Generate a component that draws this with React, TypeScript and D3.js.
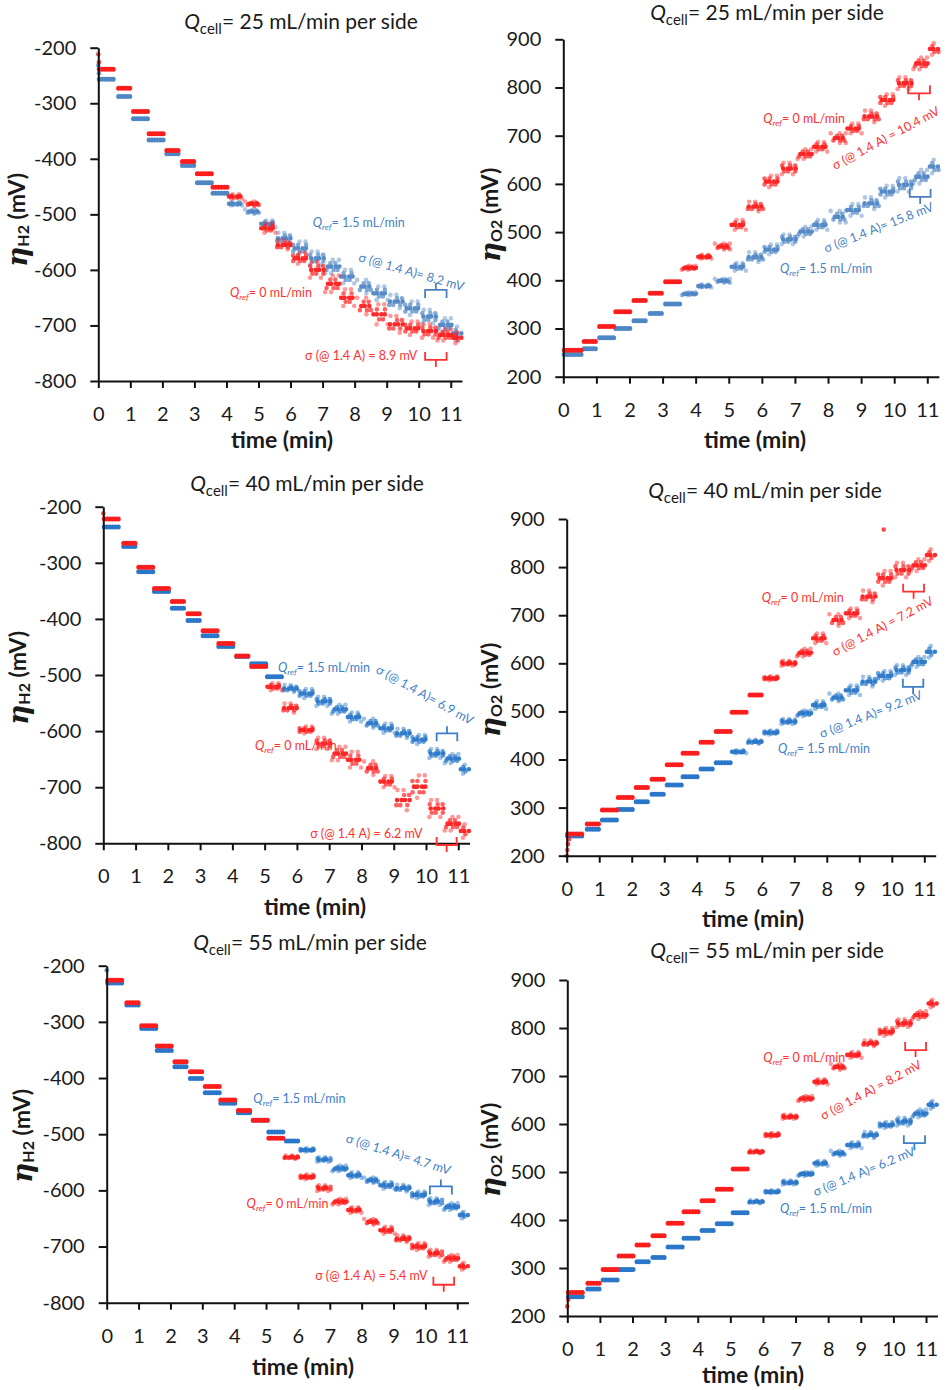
import { useEffect, useRef } from "react";
import * as d3 from "d3";

// time edges of the current steps (min)
const STEP_EDGES = [0, 0.55, 1.05, 1.55, 2.05, 2.55, 3.05, 3.55, 4.05, 4.55, 5.05, 5.55, 6.05, 6.55, 7.05, 7.55, 8.05, 8.55, 9.05, 9.55, 10.05, 10.55, 11.05, 11.35];
const TIME_TICKS = [0, 1, 2, 3, 4, 5, 6, 7, 8, 9, 10, 11];
const H2_TICKS = [-200, -300, -400, -500, -600, -700, -800];
const O2_TICKS = [200, 300, 400, 500, 600, 700, 800, 900];

// plateau levels (mV) and scatter half-width (mV), Qref = 0 (red) and Qref = 1.5 (blue)
const h2_25_zero = [-239, -273, -315, -355, -385, -405, -427, -451, -468, -481, -525, -555, -579, -600, -625, -650, -665, -680, -698, -705, -710, -717, -722];
const h2_25_zeroSd = [0, 0, 0, 0, 0, 0, 0, 0, 4, 4, 8, 8, 10, 14, 15, 15, 15, 18, 15, 12, 12, 10, 10];
const h2_25_ref = [-257, -288, -328, -366, -391, -412, -443, -462, -481, -495, -517, -543, -561, -579, -594, -612, -630, -642, -657, -669, -684, -699, -714];
const h2_25_refSd = [0, 0, 0, 0, 0, 0, 0, 0, 3, 4, 6, 10, 12, 12, 12, 12, 12, 12, 12, 12, 12, 12, 12];

const o2_25_zero = [255, 273, 304, 335, 358, 373, 397, 426, 449, 470, 515, 553, 605, 632, 662, 677, 695, 715, 740, 774, 809, 850, 880];
const o2_25_zeroSd = [0, 0, 0, 0, 0, 0, 0, 4, 4, 6, 10, 10, 12, 12, 10, 10, 10, 10, 12, 12, 12, 12, 12];
const o2_25_ref = [246, 258, 281, 300, 316, 331, 351, 372, 388, 399, 428, 448, 464, 485, 501, 515, 532, 546, 560, 584, 598, 615, 636];
const o2_25_refSd = [0, 0, 0, 0, 0, 0, 0, 3, 3, 4, 8, 10, 10, 10, 10, 10, 12, 12, 12, 12, 14, 14, 14];

const h2_40_zero = [-222, -265, -308, -346, -369, -391, -421, -444, -466, -485, -521, -559, -598, -622, -640, -651, -666, -690, -723, -699, -738, -765, -778];
const h2_40_zeroSd = [0, 0, 0, 0, 0, 0, 0, 0, 0, 0, 6, 8, 6, 10, 12, 14, 12, 10, 18, 20, 15, 12, 12];
const h2_40_ref = [-236, -271, -316, -351, -381, -403, -430, -449, -467, -480, -503, -524, -533, -547, -561, -575, -586, -595, -604, -615, -640, -649, -668];
const h2_40_refSd = [0, 0, 0, 0, 0, 0, 0, 0, 0, 0, 0, 6, 8, 8, 8, 8, 8, 8, 8, 8, 8, 8, 8];

const o2_40_zero = [245, 266, 295, 321, 342, 359, 389, 413, 436, 458, 498, 534, 569, 600, 622, 652, 690, 704, 739, 777, 794, 804, 825];
const o2_40_zeroSd = [0, 0, 0, 0, 0, 0, 0, 0, 0, 0, 0, 0, 4, 5, 8, 10, 12, 10, 12, 15, 15, 12, 12];
const o2_40_ref = [241, 255, 274, 296, 312, 328, 347, 364, 380, 393, 416, 437, 456, 479, 496, 513, 529, 544, 562, 574, 586, 603, 624];
const o2_40_refSd = [0, 0, 0, 0, 0, 0, 0, 0, 0, 0, 3, 4, 4, 5, 6, 8, 8, 10, 10, 10, 10, 10, 12];

const h2_55_zero = [-226, -266, -307, -343, -371, -389, -415, -439, -458, -475, -507, -541, -576, -596, -620, -635, -656, -671, -686, -700, -712, -721, -735];
const h2_55_zeroSd = [0, 0, 0, 0, 0, 0, 0, 0, 0, 0, 0, 3, 4, 5, 5, 5, 5, 6, 6, 6, 6, 6, 6];
const h2_55_ref = [-231, -270, -312, -351, -380, -401, -426, -445, -462, -475, -496, -512, -528, -545, -561, -573, -582, -591, -596, -608, -620, -629, -644];
const h2_55_refSd = [0, 0, 0, 0, 0, 0, 0, 0, 0, 0, 0, 0, 3, 4, 5, 5, 5, 6, 6, 6, 6, 6, 6];

const o2_55_zero = [249, 268, 297, 325, 348, 367, 393, 417, 440, 464, 506, 542, 577, 615, 653, 688, 719, 744, 768, 792, 810, 827, 851];
const o2_55_zeroSd = [0, 0, 0, 0, 0, 0, 0, 0, 0, 0, 0, 3, 4, 4, 5, 5, 6, 6, 6, 8, 8, 8, 8];
const o2_55_ref = [240, 256, 275, 297, 313, 322, 344, 362, 378, 392, 415, 438, 459, 478, 496, 518, 539, 556, 577, 598, 605, 622, 640];
const o2_55_refSd = [0, 0, 0, 0, 0, 0, 0, 0, 0, 0, 0, 3, 3, 4, 4, 5, 5, 6, 6, 6, 8, 8, 8];

// single points off the plateaus: [time, mV]
const h2_25_zeroExtra = [[0, -212], [0.02, -226]];
const h2_25_refExtra = [[0, -232], [0.02, -246]];
const o2_40_zeroExtra = [[0, 200], [0.02, 212], [0.04, 224], [0.07, 234], [9.75, 878]];
const h2_40_zeroExtra = [[0, -212]];
const h2_55_refExtra = [[0, -208]];
const o2_55_zeroExtra = [[0, 220], [0.03, 234]];

const RED = "#ff1c1c";
const RED_TXT = "#ff3030";

const PANELS = [
  {
    gas: "H2", q: 25, x0: 98.3, ppm: 32.04, yTop: 47.7, yBot: 381, title: [301, 29], xLab: [282, 448], yLab: [19, 220],
    blue: "#4f86c4", blueTxt: "#4a7fbf",
    zero: [h2_25_zero, h2_25_zeroSd, h2_25_zeroExtra], ref: [h2_25_ref, h2_25_refSd, h2_25_refExtra],
    notes: {
      refQ: [6.69, -522, 0], refS: [8.1, -584, 16, "= 8.2 mV"], refB: [10.2, 10.87, -636, -1],
      zeroQ: [4.11, -648, 0], zeroS: [6.45, -762, 0, " = 8.9 mV"], zeroB: [10.2, 10.87, -762, 1],
    },
  },
  {
    gas: "O2", q: 25, x0: 563.3, ppm: 33.09, yTop: 39.3, yBot: 376.7, title: [767, 20], xLab: [755, 448], yLab: [492, 215],
    blue: "#4f86c4", blueTxt: "#4a7fbf",
    zero: [o2_25_zero, o2_25_zeroSd, []], ref: [o2_25_ref, o2_25_refSd, []],
    notes: {
      refQ: [6.55, 415, 0], refS: [7.94, 457, -21.5, "= 15.8 mV"], refB: [10.47, 11.1, 573, 1],
      zeroQ: [6.04, 726, 0], zeroS: [8.21, 629, -28, " = 10.4 mV"], zeroB: [10.42, 11.08, 788, 1],
    },
  },
  {
    gas: "H2", q: 40, x0: 103.3, ppm: 32.27, yTop: 506.7, yBot: 843.3, title: [307, 491], xLab: [315, 915], yLab: [20, 678],
    blue: "#2a77c9", blueTxt: "#3d7fc8",
    zero: [h2_40_zero, h2_40_zeroSd, h2_40_zeroExtra], ref: [h2_40_ref, h2_40_refSd, []],
    notes: {
      refQ: [5.41, -494, 0], refS: [8.42, -495, 29, "= 6.9 mV"], refB: [10.33, 10.97, -604, -1],
      zeroQ: [4.7, -634, 0], zeroS: [6.41, -791, 0, " = 6.2 mV"], zeroB: [10.33, 10.95, -803, 1],
    },
  },
  {
    gas: "O2", q: 40, x0: 566.7, ppm: 32.51, yTop: 519, yBot: 855.7, title: [765, 498], xLab: [753, 927], yLab: [492, 690],
    blue: "#2a77c9", blueTxt: "#3d7fc8",
    zero: [o2_40_zero, o2_40_zeroSd, o2_40_zeroExtra], ref: [o2_40_ref, o2_40_refSd, []],
    notes: {
      refQ: [6.5, 413, 0], refS: [7.84, 444, -21.5, "= 9.2 mV"], refB: [10.34, 10.97, 551, 1],
      zeroQ: [6.0, 728, 0], zeroS: [8.25, 614, -28, " = 7.2 mV"], zeroB: [10.35, 10.99, 749, 1],
    },
  },
  {
    gas: "H2", q: 55, x0: 106.7, ppm: 31.87, yTop: 965.7, yBot: 1302.7, title: [310, 950], xLab: [303, 1375], yLab: [24, 1136],
    blue: "#2a77c9", blueTxt: "#3d7fc8",
    zero: [h2_55_zero, h2_55_zeroSd, []], ref: [h2_55_ref, h2_55_refSd, h2_55_refExtra],
    notes: {
      refQ: [4.6, -445, 0], refS: [7.48, -514, 17.5, "= 4.7 mV"], refB: [10.14, 10.83, -593, -1],
      zeroQ: [4.39, -632, 0], zeroS: [6.54, -760, 0, " = 5.4 mV"], zeroB: [10.25, 10.9, -768, 1],
    },
  },
  {
    gas: "O2", q: 55, x0: 567.3, ppm: 32.61, yTop: 980, yBot: 1316, title: [767, 958], xLab: [753, 1383], yLab: [492, 1150],
    blue: "#2a77c9", blueTxt: "#3d7fc8",
    zero: [o2_55_zero, o2_55_zeroSd, o2_55_zeroExtra], ref: [o2_55_ref, o2_55_refSd, []],
    notes: {
      refQ: [6.52, 414, 0], refS: [7.6, 449, -22.5, "=  6.2 mV"], refB: [10.32, 10.97, 560, 1],
      zeroQ: [6.01, 730, 0], zeroS: [7.85, 608, -28, " = 8.2 mV"], zeroB: [10.36, 11.0, 754, 1],
    },
  },
];

const FONT = "Lato, 'Open Sans', sans-serif";

function drawPanel(svg: any, p: any) {
  const x = d3.scaleLinear().domain([0, 11.35]).range([p.x0, p.x0 + 11.35 * p.ppm]);
  const dom = p.gas === "H2" ? [-800, -200] : [200, 900];
  const y = d3.scaleLinear().domain(dom).range([p.yBot, p.yTop]);
  const line = d3.line<number[]>().x(d => x(d[0])).y(d => y(d[1]));

  const g = svg.append("g");

  const drawSeries = (vals: number[], sd: number[], extra: number[][], color: string) => {
    const sg = g.append("g");
    vals.forEach((v, i) => {
      const t0 = STEP_EDGES[i] + 0.03;
      const t1 = STEP_EDGES[i + 1] - 0.01;
      const s = sd[i];
      const rows: [number, string, number][] = s > 0
        ? [[-s, "0 6 0 11", 0.45], [-s / 2, "0 4 0 7", 0.7], [0, "0 3.4 0 4.6", 0.95], [s / 2, "0 5 0 8", 0.7], [s, "0 9 0 6", 0.45]]
        : [[0, "0 2.8", 1]];
      rows.forEach(([dv, dash, op], k) => {
        sg.append("path")
          .attr("d", line([[t0, v + dv], [t1, v + dv]]))
          .attr("fill", "none")
          .attr("stroke", color)
          .attr("stroke-width", s > 0 ? 4.6 : 5)
          .attr("stroke-linecap", "round")
          .attr("stroke-dasharray", dash)
          .attr("stroke-dashoffset", ((i * 3 + k * 2) % 7) * 1.3)
          .attr("opacity", op);
      });
    });
    sg.selectAll("circle.extra")
      .data(extra)
      .join("circle")
      .attr("cx", (d: number[]) => x(d[0]))
      .attr("cy", (d: number[]) => y(d[1]))
      .attr("r", 2.3)
      .attr("fill", color)
      .attr("opacity", 0.8);
  };

  drawSeries(p.ref[0], p.ref[1], p.ref[2], p.blue);
  drawSeries(p.zero[0], p.zero[1], p.zero[2], RED);

  // axes
  const ax = g.append("g")
    .attr("transform", `translate(0,${p.yBot})`)
    .call(d3.axisBottom(x).tickValues(TIME_TICKS).tickSize(7).tickSizeOuter(0).tickPadding(19).tickFormat((d: any) => String(d)));
  const ay = g.append("g")
    .attr("transform", `translate(${p.x0},0)`)
    .call(d3.axisLeft(y).tickValues(p.gas === "H2" ? H2_TICKS : O2_TICKS).tickSize(8).tickSizeOuter(0).tickPadding(14).tickFormat((d: any) => String(d)));
  [ax, ay].forEach(a => {
    a.select(".domain").attr("stroke", "#111").attr("stroke-width", 2);
    a.selectAll(".tick line").attr("stroke", "#111").attr("stroke-width", 2);
    a.selectAll(".tick text").attr("font-family", FONT).attr("font-size", 20).attr("fill", "#1a1a1a");
  });

  // title
  const tt = g.append("text")
    .attr("x", p.title[0]).attr("y", p.title[1])
    .attr("text-anchor", "middle").attr("font-family", FONT).attr("font-size", 21).attr("fill", "#1a1a1a");
  tt.append("tspan").attr("font-style", "italic").text("Q");
  tt.append("tspan").attr("font-size", 15).attr("dy", 5).text("cell");
  tt.append("tspan").attr("dy", -5).text(`= ${p.q} mL/min per side`);

  // axis titles
  g.append("text")
    .attr("x", p.xLab[0]).attr("y", p.xLab[1])
    .attr("text-anchor", "middle").attr("font-family", FONT).attr("font-weight", "bold")
    .attr("font-size", 23).attr("fill", "#1a1a1a").text("time (min)");

  const yl = g.append("text")
    .attr("transform", `translate(${p.yLab[0]},${p.yLab[1]}) rotate(-90)`)
    .attr("text-anchor", "middle").attr("dominant-baseline", "middle")
    .attr("font-family", FONT).attr("font-weight", "bold").attr("font-size", 23).attr("fill", "#1a1a1a");
  yl.append("tspan").attr("font-family", "'DejaVu Serif', serif").attr("font-style", "italic").attr("font-size", 28).text("η");
  yl.append("tspan").attr("font-size", 16).attr("dy", 6).text(p.gas === "H2" ? "H2" : "O2");
  yl.append("tspan").attr("dy", -6).text(" (mV)");

  // annotations
  const qNote = (pos: number[], flow: string, color: string) => {
    const t = g.append("text")
      .attr("transform", `translate(${x(pos[0])},${y(pos[1])}) rotate(${pos[2]})`)
      .attr("font-family", FONT).attr("font-size", 12.5).attr("fill", color);
    t.append("tspan").attr("font-style", "italic").text("Q");
    t.append("tspan").attr("font-style", "italic").attr("font-size", 8.5).attr("dy", 3).text("ref");
    t.append("tspan").attr("dy", -3).text(`= ${flow} mL/min`);
  };
  const sNote = (pos: any[], color: string) => {
    g.append("text")
      .attr("transform", `translate(${x(pos[0])},${y(pos[1])}) rotate(${pos[2]})`)
      .attr("font-family", FONT).attr("font-size", 12.5).attr("fill", color)
      .text(`σ (@ 1.4 A)${pos[3]}`);
  };
  const bracket = (b: number[], color: string) => {
    const xa = x(b[0]), xb = x(b[1]), xm = (xa + xb) / 2, yy = y(b[2]), dir = b[3];
    const arm = -8 * dir, stem = 7 * dir;
    g.append("path")
      .attr("d", `M${xa},${yy + arm}L${xa},${yy}L${xb},${yy}L${xb},${yy + arm}M${xm},${yy}L${xm},${yy + stem}`)
      .attr("fill", "none").attr("stroke", color).attr("stroke-width", 1.8);
  };
  const n = p.notes;
  qNote(n.refQ, "1.5", p.blueTxt);
  sNote(n.refS, p.blueTxt);
  bracket(n.refB, p.blueTxt);
  qNote(n.zeroQ, "0", RED_TXT);
  sNote(n.zeroS, RED_TXT);
  bracket(n.zeroB, RED_TXT);
}

export default function App() {
  const svgRef = useRef<SVGSVGElement | null>(null);

  useEffect(() => {
    if (!svgRef.current) return;
    const svg = d3.select(svgRef.current);
    svg.selectAll("*").remove();
    svg.append("rect").attr("width", 948).attr("height", 1390).attr("fill", "#fff");
    PANELS.forEach(p => drawPanel(svg, p));
  }, []);

  return (
    <div style={{ position: "absolute", left: 0, top: 0 }}>
      <svg ref={svgRef} width={948} height={1390} style={{ display: "block" }}></svg>
    </div>
  );
}
